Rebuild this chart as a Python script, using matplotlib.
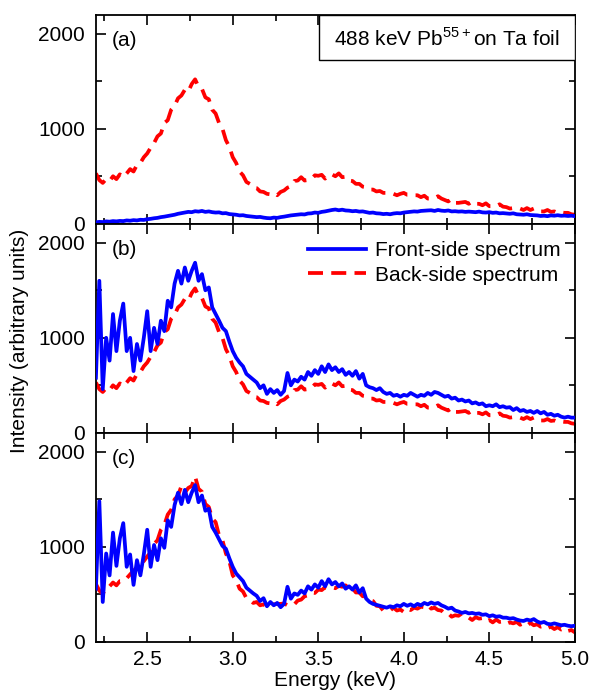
import matplotlib
matplotlib.use("Agg")
import matplotlib.pyplot as plt
import numpy as np
from matplotlib.ticker import MultipleLocator
from matplotlib.patches import Rectangle

plt.rcParams['font.family'] = ['Liberation Sans', 'DejaVu Sans']
plt.rcParams['mathtext.fontset'] = 'custom'
plt.rcParams['mathtext.rm'] = 'Liberation Sans'

# energy grid, 0.02 keV steps from 2.20 to 5.00
energy = np.linspace(2.2, 5.0, 141)

# back-side spectrum (same in panels a and b)
back_ab = [
    530, 460, 430, 470, 450, 500, 470, 520, 490, 530,
    575, 550, 620, 640, 700, 740, 800, 850, 920, 950,
    1060, 1090, 1200, 1240, 1320, 1350, 1410, 1390, 1470, 1520,
    1440, 1420, 1330, 1310, 1200, 1160, 1060, 1000, 880, 810,
    700, 640, 550, 510, 440, 420, 380, 375, 340, 335,
    315, 310, 325, 300, 335, 350, 380, 395, 450, 455,
    490, 455, 460, 470, 510, 505, 515, 475, 510, 520,
    500, 530, 490, 495, 455, 450, 420, 420, 390, 385,
    360, 360, 340, 345, 325, 325, 320, 315, 300, 315,
    325, 305, 305, 300, 300, 280, 295, 265, 265, 270,
    290, 265, 250, 235, 260, 220, 220, 225, 230, 210,
    235, 210, 210, 195, 215, 185, 185, 185, 205, 180,
    175, 160, 165, 165, 160, 145, 165, 145, 160, 135,
    130, 130, 145, 125, 130, 115, 120, 115, 115, 100,
    95]

# front-side spectrum, raw (panel a)
front_a = [
    15, 20, 18, 25, 22, 28, 25, 30, 28, 35,
    32, 38, 35, 42, 40, 48, 52, 58, 62, 70,
    75, 82, 90, 95, 105, 112, 118, 125, 122, 132,
    128, 135, 125, 130, 122, 118, 120, 110, 112, 102,
    98, 95, 88, 90, 82, 78, 75, 70, 72, 65,
    60, 58, 65, 62, 70, 75, 82, 88, 92, 95,
    100, 98, 108, 110, 118, 115, 125, 130, 138, 145,
    150, 142, 148, 140, 138, 132, 135, 128, 130, 122,
    115, 118, 110, 108, 102, 105, 100, 108, 112, 110,
    118, 122, 125, 130, 128, 135, 138, 140, 142, 135,
    145, 138, 135, 140, 130, 132, 128, 130, 125, 128,
    125, 122, 128, 120, 118, 122, 115, 118, 110, 112,
    108, 105, 110, 100, 98, 95, 100, 92, 90, 88,
    82, 85, 80, 88, 85, 90, 84, 86, 82, 85,
    80]

# front-side spectrum, corrected (panel b)
front_b = [
    580, 1600, 460, 1000, 760, 1250, 860, 1180, 1360, 860,
    1000, 650, 935, 760, 1000, 1280, 860, 1105, 935, 1180,
    1070, 1390, 1320, 1570, 1705, 1570, 1740, 1600, 1705, 1790,
    1600, 1670, 1500, 1530, 1320, 1250, 1180, 1105, 1070, 960,
    860, 790, 740, 700, 620, 590, 560, 530, 470, 500,
    410, 460, 420, 450, 400, 440, 630, 500, 560, 540,
    590, 560, 640, 600, 660, 620, 700, 640, 720, 660,
    690, 640, 670, 610, 640, 600, 650, 570, 620, 500,
    480, 470, 450, 470, 430, 410, 420, 390, 400, 380,
    400, 390, 420, 400, 380, 400, 390, 420, 400, 430,
    420, 400, 380, 390, 360, 370, 340, 350, 330, 340,
    310, 320, 300, 310, 280, 290, 280, 300, 270, 280,
    265, 270, 240, 260, 230, 240, 220, 230, 210, 230,
    205, 220, 190, 200, 180, 190, 170, 160, 170, 160,
    160]

# panel c
front_c = [
    560, 1480, 420, 930, 700, 1150, 800, 1090, 1250, 790,
    920, 600, 860, 700, 920, 1180, 790, 1020, 860, 1090,
    990, 1280, 1210, 1440, 1570, 1450, 1600, 1470, 1570, 1650,
    1470, 1540, 1380, 1400, 1210, 1150, 1080, 1010, 980, 880,
    790, 720, 680, 640, 570, 540, 510, 485, 430, 460,
    375, 420, 385, 410, 365, 400, 580, 455, 510, 495,
    540, 510, 585, 550, 605, 570, 640, 585, 660, 605,
    630, 585, 615, 560, 585, 550, 595, 520, 565, 455,
    420, 400, 390, 380, 370, 360, 375, 365, 385, 375,
    400, 380, 395, 375, 400, 385, 410, 395, 415, 400,
    410, 385, 370, 350, 360, 330, 320, 305, 315, 300,
    305, 295, 300, 285, 290, 270, 280, 265, 270, 255,
    255, 245, 250, 235, 225, 220, 235, 225, 240, 215,
    200, 210, 190, 185, 195, 185, 175, 180, 170, 165,
    170]

back_c = [
    610, 540, 505, 570, 585, 625, 595, 640, 640, 670,
    710, 750, 780, 845, 850, 900, 940, 1030, 1070, 1180,
    1230, 1340, 1390, 1500, 1540, 1640, 1570, 1620, 1640, 1740,
    1610, 1580, 1450, 1420, 1300, 1260, 1120, 1070, 930, 850,
    700, 650, 560, 530, 460, 440, 410, 420, 385, 395,
    375, 395, 395, 400, 400, 405, 385, 385, 395, 435,
    445, 480, 490, 520, 515, 550, 545, 575, 560, 575,
    565, 590, 580, 595, 560, 565, 520, 520, 480, 480,
    440, 430, 380, 375, 330, 335, 330, 360, 330, 340,
    315, 350, 335, 360, 350, 370, 365, 390, 350, 360,
    335, 330, 295, 300, 265, 280, 275, 300, 255, 255,
    230, 260, 245, 250, 215, 230, 205, 235, 210, 215,
    190, 205, 195, 210, 180, 195, 170, 200, 175, 185,
    160, 170, 145, 160, 135, 155, 130, 145, 115, 125,
    100]

panels = [('(a)', front_a, back_ab), ('(b)', front_b, back_ab), ('(c)', front_c, back_c)]

fig = plt.figure(figsize=(5.92, 7.0), dpi=100)
gs = fig.add_gridspec(3, 1, left=0.162, right=0.971, top=0.979, bottom=0.083, hspace=0)

blue = '#0000ff'
red = '#ff0000'
for i, (lab, front, back) in enumerate(panels):
    ax = fig.add_subplot(gs[i])
    ax.plot(energy, front, color=blue, lw=2.7, label='Front-side spectrum', zorder=3)
    ax.plot(energy, back, color=red, lw=2.7, dashes=(4, 2.2), label='Back-side spectrum', zorder=2)
    ax.set_xlim(2.2, 5.0)
    ax.set_ylim(0, 2200)
    ax.xaxis.set_major_locator(MultipleLocator(0.5))
    ax.xaxis.set_minor_locator(MultipleLocator(0.25))
    ax.yaxis.set_major_locator(MultipleLocator(1000))
    ax.yaxis.set_minor_locator(MultipleLocator(500))
    ax.tick_params(which='both', direction='in', top=True, right=True, labelsize=15, width=1.2)
    ax.tick_params(axis='y', which='major', length=7, pad=8)
    ax.tick_params(axis='x', which='major', length=7, pad=6)
    ax.tick_params(which='minor', length=4)
    for s in ax.spines.values():
        s.set_linewidth(1.3)
    ax.text(0.033, 0.875, lab, transform=ax.transAxes, fontsize=15, va='center', ha='left')
    if i < 2:
        ax.tick_params(labelbottom=False)
    else:
        ax.xaxis.set_major_formatter(plt.FuncFormatter(lambda v, p: f'{v:.1f}'))
        ax.set_xlabel('Energy (keV)', fontsize=15, labelpad=1)
    if i == 0:
        ax.add_patch(Rectangle((0.4656, 0.783), 0.5344, 0.217, transform=ax.transAxes,
                               facecolor='white', edgecolor='black', lw=1.0, zorder=5))
        ax.text(0.733, 0.885, r'488 keV Pb$^{55+}$on Ta foil', transform=ax.transAxes,
                fontsize=15, ha='center', va='center', zorder=6)
    if i == 1:
        ax.legend(loc='upper right', bbox_to_anchor=(1.0, 0.985), frameon=False, fontsize=15,
                  handlelength=2.8, handletextpad=0.4, labelspacing=0.25, borderaxespad=0.3)

fig.text(0.033, 0.513, 'Intensity (arbitrary units)', rotation=90, fontsize=15,
         ha='center', va='center')

fig.savefig('out.png', dpi=100)
